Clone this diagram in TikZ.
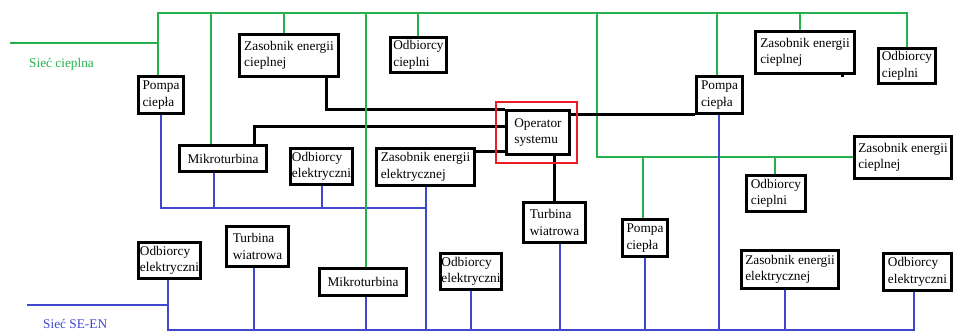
\documentclass[tikz,border=0pt]{standalone}
\usepackage{fontspec}
\setmainfont{Liberation Serif}
\usetikzlibrary{backgrounds}
\definecolor{heatgreen}{RGB}{34,177,76}
\definecolor{gridblue}{RGB}{63,72,204}
\definecolor{opred}{RGB}{237,28,36}
% unit box: name, left, top, right, bottom (outer edges), text
\newcommand{\unitbox}[6]{%
  \node[unit, minimum width={#4-#2-3}, minimum height={#5-#3-3}] (#1)
    at ({(#2+#4)/2},{(#3+#5)/2}) {#6};}
\begin{document}
\begin{tikzpicture}[x=1pt,y=-1pt,
  unit/.style={draw=black, line width=2.8pt, fill=white, inner sep=0pt,
    align=left, font=\fontsize{13.3}{16.5}\selectfont},
  heat/.style={draw=heatgreen, line width=2.5pt},
  elec/.style={draw=gridblue, line width=2.6pt},
  ctrl/.style={draw=black, line width=3pt},
  netlabel/.style={inner sep=0pt, anchor=base west, font=\fontsize{13.3}{16}\selectfont}]
\useasboundingbox (0,0) rectangle (953,332);

% ---- units ----
\unitbox{pcL}{137}{75}{185}{115}{Pompa\\ciepła}
\unitbox{zcL}{238}{33}{340}{78}{Zasobnik energii\\cieplnej}
\unitbox{ocM}{389}{36}{448}{74}{Odbiorcy\\cieplni}
\unitbox{mtU}{178}{144}{268}{173}{Mikroturbina}
\unitbox{oeU}{289}{147}{354}{186}{Odbiorcy\\elektryczni}
\unitbox{zeU}{375}{147}{476}{187}{Zasobnik energii\\elektrycznej}
\unitbox{op}{505}{109}{571}{156}{Operator\\systemu}
\unitbox{pcR}{695}{75}{744}{115}{Pompa\\ciepła}
\unitbox{zcR}{754}{30}{856}{75}{Zasobnik energii\\cieplnej}
\unitbox{ocR}{877}{47}{937}{85}{Odbiorcy\\cieplni}
\unitbox{zcE}{853}{135}{953}{180}{Zasobnik energii\\cieplnej}
\unitbox{ocE}{745}{174}{807}{213}{Odbiorcy\\cieplni}
\unitbox{oeL}{137}{241}{202}{280}{Odbiorcy\\elektryczni}
\unitbox{twL}{225}{225}{290}{268}{Turbina\\wiatrowa}
\unitbox{mtB}{318}{267}{408}{297}{Mikroturbina}
\unitbox{oeB}{439}{252}{503}{291}{Odbiorcy\\elektryczni}
\unitbox{twM}{522}{201}{587}{244}{Turbina\\wiatrowa}
\unitbox{pcB}{621}{218}{669}{258}{Pompa\\ciepła}
\unitbox{zeB}{740}{249}{840}{290}{Zasobnik energii\\elektrycznej}
\unitbox{oeR}{882}{252}{953}{292}{Odbiorcy\\elektryczni}

% operator frame
\node[draw=opred, line width=2.6pt, minimum width=81, minimum height=61,
  inner sep=0pt] (opframe) at (536.5,132.5) {};

% network names
\node[netlabel, text=heatgreen] (lblHeat) at (29,67) {Sieć cieplna};
\node[netlabel, text=gridblue] (lblGrid) at (43,328) {Sieć SE-EN};

% ---- bus points ----
\coordinate (hL) at (10,43);
\coordinate (hT0) at (158,13);
\coordinate (hT1) at (907,13);
\coordinate (h1) at (211,13);
\coordinate (h2) at (284,13);
\coordinate (h3) at (366,13);
\coordinate (h4) at (418,13);
\coordinate (hM) at (597,13);
\coordinate (h5) at (717,13);
\coordinate (h6) at (800,13);
\coordinate (hMb) at (597,157);
\coordinate (h7) at (643,157);
\coordinate (h8) at (775,157);

\coordinate (c1) at (326,109);
\coordinate (c2) at (254,126);
\coordinate (c3) at (476,151);
\coordinate (c4) at (571,114);
\coordinate (c5) at (842,75);

\coordinate (eL) at (27,305);
\coordinate (eB0) at (168,330);
\coordinate (eB1) at (914,330);
\coordinate (eU0) at (161,208);
\coordinate (eU1) at (426,208);
\coordinate (eU2) at (214,208);
\coordinate (eU3) at (322,208);

\begin{scope}[on background layer]
  % control links to the operator
  \draw[ctrl] (zcL.south -| c1) -- (c1 |- op.north) -- (op.north west);
  \draw[ctrl] (mtU.north -| c2) -- (c2) -- (c2 -| op.west);
  \draw[ctrl] (zeU.east |- c3) -- (op.west |- c3);
  \draw[ctrl] (twM.north |- op.south) -- (twM.north);
  \draw[ctrl] (zcR.south -| c5) -- ++(0,2.5);

  % electric grid
  \draw[elec] (eL) -- (eL -| eB0);
  \draw[elec] (oeL.south -| eB0) -- (eB0) -- (eB1) -- (oeR.south -| eB1);
  \foreach \n/\x in {twL/254, mtB/366, zeU/426, oeB/471, twM/560, pcB/645, zeB/785}{
    \coordinate (e\n) at (\x,330);
    \draw[elec] (\n.south -| e\n) -- (e\n);
  }
  \draw[elec] (pcL.south -| eU0) -- (eU0) -- (eU1);
  \draw[elec] (mtU.south -| eU2) -- (eU2);
  \draw[elec] (oeU.south -| eU3) -- (eU3);

  % heating network
  \draw[heat] (hL) -- (hL -| hT0);
  \draw[heat] (pcL.north -| hT0) -- (hT0) -- (hT1) -- (ocR.north -| hT1);
  \draw[heat] (h1) -- (mtU.north -| h1);
  \draw[heat] (h2) -- (zcL.north -| h2);
  \draw[heat] (h3) -- (mtB.north -| h3);
  \draw[heat] (h4) -- (ocM.north -| h4);
  \draw[heat] (h5) -- (pcR.north -| h5);
  \draw[heat] (h6) -- (zcR.north -| h6);
  \draw[heat] (hM) -- (hMb) -- (hMb -| zcE.west);
  \draw[heat] (h7) -- (pcB.north -| h7);
  \draw[heat] (h8) -- (ocE.north -| h8);

  % links drawn over the heating network
  \coordinate (epcR) at (719,330);
  \draw[elec] (pcR.south -| epcR) -- (epcR);
  \draw[ctrl] (op.east |- c4) -- (pcR.west |- c4);
\end{scope}
\end{tikzpicture}
\end{document}
